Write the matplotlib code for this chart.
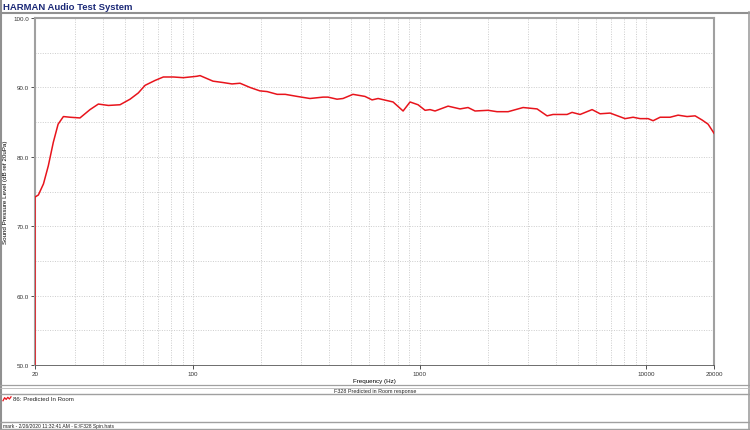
import numpy as np
import matplotlib.pyplot as plt
from matplotlib.lines import Line2D
from matplotlib.ticker import FixedLocator, NullFormatter

plt.rcParams['font.family'] = ['Liberation Sans', 'DejaVu Sans']

# Predicted in-room response
freq = [20, 20, 20.7, 21.8, 22.9, 24.1, 25.3, 26.7, 28.6, 31.6, 35.0, 38.1, 42.2,
        47.5, 52.6, 57.2, 61.3, 67.8, 73.8, 81.7, 90.4, 96.8, 103.6, 107.2,
        122.3, 135.5, 148.4, 161, 178, 197, 212, 235, 255, 288, 328, 375, 394,
        432, 459, 508, 574, 617, 656, 719, 764, 846, 908, 985, 1058, 1113,
        1171, 1337, 1510, 1638, 1759, 2008, 2200, 2462, 2868, 3306, 3660,
        3890, 4486, 4720, 5122, 5786, 6278, 6950, 8096, 8781, 9430, 10228,
        10762, 11558, 12794, 13879, 15210, 16504, 17722, 18834, 20000]
spl = [40.0, 74.2, 74.5, 76.1, 78.7, 82.1, 84.7, 85.8, 85.7, 85.6, 86.8, 87.6, 87.4,
       87.5, 88.3, 89.2, 90.3, 91.0, 91.5, 91.5, 91.4, 91.5, 91.6, 91.7,
       90.9, 90.7, 90.5, 90.6, 90.0, 89.5, 89.4, 89.0, 89.0, 88.7, 88.4, 88.6, 88.6,
       88.3, 88.4, 89.0, 88.7, 88.2, 88.4, 88.1, 87.9, 86.6, 87.9, 87.5, 86.7, 86.8,
       86.6, 87.3, 86.9, 87.1, 86.6, 86.7, 86.5, 86.5, 87.1, 86.9, 85.9,
       86.1, 86.1, 86.4, 86.1, 86.8, 86.2, 86.3, 85.5, 85.7, 85.5, 85.5,
       85.2, 85.7, 85.7, 86.0, 85.8, 85.9, 85.3, 84.7, 83.4]

x_ticks = [20, 100, 1000, 10000, 20000]
x_ticklabels = ['20', '100', '1000', '10000', '20000']
y_ticks = [50, 60, 70, 80, 90, 100]

W, H = 750, 431
fig = plt.figure(figsize=(W / 100, H / 100), dpi=100)

def fx(px):
    return px / W

def fy(py):
    return 1 - py / H

ax = fig.add_axes([fx(35), fy(366), fx(714) - fx(35), fy(19) - fy(366)])
ax.set_xscale('log')
ax.set_xlim(20, 20000)
ax.set_ylim(50, 100)

ax.plot(freq, spl, color='#e8141c', lw=1.1, solid_joinstyle='round', zorder=3)

# grid
minor_x = [f for d in (10, 100, 1000, 10000) for f in np.arange(2, 10) * d if 20 < f < 20000]
ax.xaxis.set_major_locator(FixedLocator(x_ticks))
ax.xaxis.set_minor_locator(FixedLocator(minor_x))
ax.xaxis.set_minor_formatter(NullFormatter())
ax.set_xticklabels(x_ticklabels)
ax.yaxis.set_major_locator(FixedLocator(y_ticks))
ax.yaxis.set_minor_locator(FixedLocator([55, 65, 75, 85, 95]))
ax.set_yticklabels([f'{v:.1f}' for v in y_ticks])
ax.grid(True, which='both', color='#cccccc', ls=(0, (1, 1.5)), lw=0.7)
ax.tick_params(axis='both', which='major', labelsize=4.5, colors='#333333', length=3, width=0.6, pad=1.5)
ax.tick_params(axis='both', which='minor', length=0)

for side in ('left', 'top', 'right'):
    ax.spines[side].set_color('#a0a0a0')
    ax.spines[side].set_linewidth(1.5)
ax.spines['bottom'].set_color('#555555')
ax.spines['bottom'].set_linewidth(0.6)

ax.set_xlabel('Frequency (Hz)', fontsize=4.5, labelpad=1)
ax.set_ylabel('Sound Pressure Level (dB ref 20uPa)', fontsize=4.5)
ax.yaxis.set_label_coords((8 - 35) / 679, 0.5)

# window chrome
fig.text(fx(3), fy(7), 'HARMAN Audio Test System', fontsize=6.8, fontweight='bold',
         color='#1c2a78', va='center', ha='left')

def hline(py, lw=1.0, color='#a0a0a0'):
    fig.add_artist(Line2D([0, 1], [fy(py), fy(py)], color=color, lw=lw))

def vline(px, y0, y1, lw=1.0, color='#a0a0a0'):
    fig.add_artist(Line2D([fx(px), fx(px)], [fy(y0), fy(y1)], color=color, lw=lw))

hline(13.5, lw=1.5, color='#909090')
vline(0.5, 0, 431, lw=1.5, color='#909090')
vline(748.5, 13, 431, lw=1.2)
hline(386.3, lw=0.9)
hline(388.6, lw=0.6, color='#b8b8b8')
hline(394.5, lw=1.0)
hline(422.5, lw=1.0)
hline(430, lw=1.0)

fig.text(fx(375), fy(391.3), 'F328 Predicted in Room response', fontsize=3.9,
         ha='center', va='center', color='#222222')

# legend entry
leg_x = np.linspace(fx(3), fx(11), 6)
leg_y = fy(400) + np.array([-0.004, 0.003, -0.001, 0.004, 0.0, 0.005])
fig.add_artist(Line2D(leg_x, leg_y, color='#e8141c', lw=0.9))
fig.text(fx(13), fy(399.5), '86: Predicted In Room', fontsize=4.4, ha='left', va='center',
         color='#222222')

fig.text(fx(3), fy(426.5), 'mark - 2/26/2020 11:32:41 AM - E:\\F328 Spin.hats', fontsize=3.6,
         ha='left', va='center', color='#222222')

fig.savefig('out.png', dpi=100)
